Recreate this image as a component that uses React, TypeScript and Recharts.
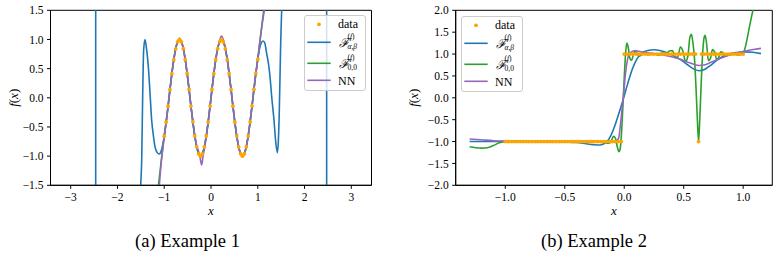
import React from 'react';
import { LineChart, Line, XAxis, YAxis, ReferenceArea, Legend, Label } from 'recharts';

const SERIF = 'Liberation Serif';
const C_DATA = '#FFA500';
const C_BLUE = '#1f77b4';
const C_GREEN = '#2ca02c';
const C_PURPLE = '#9467bd';

// ---------------- Example 1 ----------------
const ex1DataX = [-1, -0.959, -0.918, -0.878, -0.837, -0.796, -0.755, -0.714, -0.673, -0.633,
  -0.592, -0.551, -0.51, -0.469, -0.429, -0.388, -0.347, -0.306, -0.265, -0.224,
  -0.184, -0.143, -0.102, -0.061, -0.02, 0.02, 0.061, 0.102, 0.143, 0.184,
  0.224, 0.265, 0.306, 0.347, 0.388, 0.429, 0.469, 0.51, 0.551, 0.592,
  0.633, 0.673, 0.714, 0.755, 0.796, 0.837, 0.878, 0.918, 0.959, 1.0];
const ex1DataY = [-0.657, -0.418, -0.145, 0.14, 0.413, 0.653, 0.84, 0.959, 1.0, 0.96,
  0.842, 0.656, 0.417, 0.144, -0.141, -0.412, -0.654, -0.841, -0.96, -1.0,
  -0.96, -0.841, -0.655, -0.416, -0.142, 0.142, 0.416, 0.655, 0.841, 0.96,
  1.0, 0.96, 0.841, 0.654, 0.412, 0.141, -0.144, -0.417, -0.656, -0.842,
  -0.96, -1.0, -0.959, -0.84, -0.653, -0.413, -0.14, 0.145, 0.418, 0.657];

const ex1BlueX = [-3.45, -2.469, -2.462, -1.6, -1.52, -1.503, -1.482, -1.46, -1.44, -1.411,
  -1.38, -1.34, -1.304, -1.269, -1.23, -1.197, -1.15, -1.105, -1.06, -1.03,
  -1, -0.959, -0.918, -0.878, -0.837, -0.796, -0.755, -0.714, -0.673, -0.633,
  -0.592, -0.551, -0.51, -0.469, -0.429, -0.388, -0.347, -0.306, -0.265, -0.224,
  -0.184, -0.143, -0.102, -0.061, -0.02, 0.02, 0.061, 0.102, 0.143, 0.184,
  0.224, 0.265, 0.306, 0.347, 0.388, 0.429, 0.469, 0.51, 0.551, 0.592,
  0.633, 0.673, 0.714, 0.755, 0.796, 0.837, 0.878, 0.918, 0.959, 1.0,
  1.04, 1.08, 1.118, 1.15, 1.19, 1.23, 1.262, 1.3, 1.347, 1.38,
  1.418, 1.44, 1.461, 1.49, 1.511, 1.6, 2.47, 2.476, 3.45];
const ex1BlueY = [4, 40, -40, -4, -1.9, -1.5, -1.07, 0.08, 0.82, 1.0,
  0.85, 0.53, 0.08, -0.38, -0.66, -0.84, -0.94, -0.964, -0.9, -0.8,
  -0.657, -0.418, -0.145, 0.14, 0.413, 0.653, 0.84, 0.959, 1.0, 0.96,
  0.842, 0.656, 0.417, 0.144, -0.141, -0.412, -0.654, -0.841, -0.96, -1.0,
  -0.96, -0.841, -0.655, -0.416, -0.142, 0.142, 0.416, 0.655, 0.841, 0.96,
  1.0, 0.96, 0.841, 0.654, 0.412, 0.141, -0.144, -0.417, -0.656, -0.842,
  -0.96, -1.0, -0.959, -0.84, -0.653, -0.413, -0.14, 0.145, 0.418, 0.657,
  0.85, 0.95, 0.974, 0.94, 0.76, 0.58, 0.36, 0.0, -0.38, -0.72,
  -0.94, -0.75, -0.21, 0.93, 1.5, 4, 40, -40, -4];

const ex1GreenX = [-1.125, -1.09, -1.06, -1.03,
  -1, -0.959, -0.918, -0.878, -0.837, -0.796, -0.755, -0.714, -0.673, -0.633,
  -0.592, -0.551, -0.51, -0.469, -0.429, -0.388, -0.347, -0.306, -0.265, -0.224,
  -0.184, -0.143, -0.102, -0.061, -0.02, 0.02, 0.061, 0.102, 0.143, 0.184,
  0.224, 0.265, 0.306, 0.347, 0.388, 0.429, 0.469, 0.51, 0.551, 0.592,
  0.633, 0.673, 0.714, 0.755, 0.796, 0.837, 0.878, 0.918, 0.959, 1.0,
  1.03, 1.06, 1.09, 1.12, 1.15];
const ex1GreenY = [-1.5, -1.27, -1.05, -0.85,
  -0.657, -0.418, -0.145, 0.14, 0.413, 0.653, 0.84, 0.959, 1.0, 0.96,
  0.842, 0.656, 0.417, 0.144, -0.141, -0.412, -0.654, -0.841, -0.96, -1.0,
  -0.97, -0.841, -0.655, -0.416, -0.142, 0.142, 0.416, 0.655, 0.841, 0.96,
  1.01, 0.96, 0.841, 0.654, 0.412, 0.141, -0.144, -0.417, -0.656, -0.842,
  -0.96, -1.0, -0.959, -0.84, -0.653, -0.413, -0.14, 0.145, 0.418, 0.657,
  0.86, 1.06, 1.26, 1.45, 1.65];

const ex1PurpleX = [-1.105, -1.075, -1.045, -1.02, -1.0,
  -0.959, -0.918, -0.878, -0.837, -0.796, -0.755, -0.714, -0.673, -0.633, -0.592,
  -0.551, -0.51, -0.469, -0.429, -0.388, -0.347, -0.306,
  -0.265, -0.235, -0.2, -0.17, -0.143,
  -0.102, -0.061, -0.02,
  0.02, 0.061, 0.102, 0.143, 0.184, 0.224, 0.265, 0.306, 0.347, 0.388,
  0.429, 0.469, 0.51, 0.551, 0.592, 0.633, 0.673, 0.714, 0.755, 0.796,
  0.837, 0.878, 0.918, 0.959, 1.0,
  1.035, 1.07, 1.105, 1.14, 1.18];
const ex1PurpleY = [-1.5, -1.2, -0.97, -0.8, -0.66,
  -0.42, -0.15, 0.14, 0.41, 0.65, 0.85, 0.97, 1.02, 0.97, 0.85,
  0.66, 0.42, 0.14, -0.14, -0.41, -0.65, -0.82,
  -0.92, -1.02, -1.15, -1.0, -0.88,
  -0.68, -0.42, -0.14,
  0.14, 0.42, 0.66, 0.85, 0.98, 1.06, 0.99, 0.86, 0.67, 0.42,
  0.14, -0.15, -0.42, -0.66, -0.84, -0.96, -0.99, -0.95, -0.83, -0.64,
  -0.4, -0.13, 0.15, 0.42, 0.66,
  0.9, 1.12, 1.32, 1.5, 1.72];

const ex1XTicks = [-3, -2, -1, 0, 1, 2, 3];
const ex1YTicks = [-1.5, -1.0, -0.5, 0, 0.5, 1.0, 1.5];
const ex1XDomain: [number, number] = [-3.432, 3.432];
const ex1YDomain: [number, number] = [-1.5, 1.5];

// ---------------- Example 2 ----------------
const ex2DataX = [-1, -0.975, -0.95, -0.925, -0.9, -0.875, -0.85, -0.825, -0.8, -0.775,
  -0.75, -0.725, -0.7, -0.675, -0.65, -0.625, -0.6, -0.575, -0.55, -0.525,
  -0.5, -0.475, -0.45, -0.425, -0.4, -0.375, -0.35, -0.325, -0.3, -0.275,
  -0.25, -0.225, -0.2, -0.175, -0.15, -0.125, -0.1, -0.075, -0.05, -0.025,
  0, 0.025, 0.05, 0.075, 0.1, 0.125, 0.15, 0.175, 0.2, 0.225,
  0.25, 0.275, 0.3, 0.325, 0.35, 0.375, 0.4, 0.425, 0.45, 0.475,
  0.5, 0.525, 0.55, 0.575, 0.6, 0.625, 0.65, 0.675, 0.7, 0.725,
  0.75, 0.775, 0.8, 0.825, 0.85, 0.875, 0.9, 0.925, 0.95, 0.975, 1];
const ex2DataY = [-1, -1, -1, -1, -1, -1, -1, -1, -1, -1,
  -1, -1, -1, -1, -1, -1, -1, -1, -1, -1,
  -1, -1, -1, -1, -1, -1, -1, -1, -1, -1,
  -1, -1, -1, -1, -1, -1, -1, -1, -1, -1,
  1, 1, 1, 1, 1, 1, 1, 1, 1, 1,
  1, 1, 1, 1, 1, 1, 1, 1, 1, 1,
  1, 1, 1, 1, 1, -1, 1, 1, 1, 1,
  1, 1, 1, 1, 1, 1, 1, 1, 1, 1, 1];

const ex2BlueX = [-1.3, -1.2, -1.1, -1.0, -0.9, -0.8, -0.7, -0.6, -0.5, -0.4,
  -0.32, -0.26, -0.21, -0.17, -0.13, -0.09, -0.05, -0.01, 0.03, 0.07,
  0.11, 0.15, 0.2, 0.25, 0.3, 0.36, 0.42, 0.48, 0.54, 0.59,
  0.63, 0.67, 0.72, 0.78, 0.84, 0.9, 0.96, 1.02, 1.08, 1.15];
const ex2BlueY = [-1.0, -1.0, -1.0, -1.0, -1.0, -1.0, -1.0, -1.0, -1.01, -1.02,
  -1.05, -1.07, -1.08, -1.05, -0.95, -0.72, -0.4, -0.05, 0.33, 0.67,
  0.9, 1.03, 1.08, 1.1, 1.08, 1.03, 0.95, 0.86, 0.74, 0.65,
  0.62, 0.64, 0.73, 0.86, 0.96, 1.01, 1.04, 1.05, 1.04, 1.01];

const ex2GreenX = [-1.3, -1.25, -1.2, -1.15, -1.1, -1.05, -1.0, -0.9, -0.8, -0.6,
  -0.4, -0.25, -0.18, -0.13, -0.11, -0.09, -0.075, -0.06, -0.045, -0.035,
  -0.025, -0.013, 0.0, 0.011, 0.022, 0.034, 0.048, 0.062, 0.078, 0.093,
  0.108, 0.125, 0.145, 0.17, 0.2, 0.23, 0.26, 0.29, 0.32, 0.35,
  0.38, 0.405, 0.43, 0.45, 0.472, 0.495, 0.515, 0.535, 0.552, 0.565,
  0.578, 0.592, 0.604, 0.615, 0.625, 0.635, 0.646, 0.658, 0.67, 0.68,
  0.692, 0.708, 0.725, 0.742, 0.76, 0.778, 0.795, 0.812, 0.83, 0.85,
  0.875, 0.9, 0.93, 0.96, 0.99, 1.01, 1.03, 1.05, 1.07, 1.09,
  1.11];
const ex2GreenY = [-1.12, -1.14, -1.15, -1.14, -1.09, -1.03, -1.0, -0.99, -1.0, -1.0,
  -1.0, -1.0, -1.02, -1.04, -1.0, -0.88, -0.92, -1.1, -1.23, -1.18,
  -0.9, -0.3, 0.45, 1.0, 1.25, 1.15, 0.9, 0.86, 1.0, 1.08,
  1.02, 0.95, 0.98, 1.03, 0.98, 1.02, 1.0, 0.97, 1.03, 1.0,
  1.07, 1.08, 0.92, 0.93, 1.16, 1.05, 0.83, 0.95, 1.38, 1.45,
  1.25, 0.85, 0.2, -0.5, -1.0, -0.5, 0.25, 0.95, 1.35, 1.43,
  1.25, 0.85, 0.9, 1.1, 1.05, 0.87, 0.93, 1.05, 1.03, 0.95,
  0.98, 1.02, 1.0, 0.98, 1.0, 1.08, 1.3, 1.58, 1.85, 2.1,
  2.4];

const ex2PurpleX = [-1.3, -1.2, -1.1, -1.0, -0.8, -0.6, -0.4, -0.2, -0.1,
  -0.06, -0.045, -0.032, -0.02, -0.008, 0.005, 0.02, 0.036,
  0.06, 0.09, 0.12, 0.16, 0.22, 0.3, 0.38, 0.46, 0.53, 0.59, 0.63, 0.67, 0.73, 0.8, 0.88, 0.96, 1.04, 1.1, 1.15];
const ex2PurpleY = [-0.94, -0.96, -0.98, -0.99, -1.0, -1.0, -1.0, -1.0, -1.0,
  -0.97, -0.9, -0.62, -0.3, 0.0, 0.4, 0.75, 0.96,
  1.05, 1.075, 1.065, 1.045, 1.02, 0.99, 0.95, 0.89, 0.82, 0.76, 0.74, 0.75, 0.81, 0.89, 0.97, 1.03, 1.08, 1.11, 1.13];

const ex2XTicks = [-1.0, -0.5, 0, 0.5, 1.0];
const ex2YTicks = [-2.0, -1.5, -1.0, -0.5, 0, 0.5, 1.0, 1.5, 2.0];
const ex2XDomain: [number, number] = [-1.417, 1.245];
const ex2YDomain: [number, number] = [-2, 2];

const captions = ['(a) Example 1', '(b) Example 2'];

// ---------------- helpers ----------------
type Pt = { x: number; y: number };
const zip = (xs: number[], ys: number[]): Pt[] => xs.map((x, i) => ({ x, y: ys[i] }));
const fmt = (d: number) => (v: number) => (v < 0 ? '\u2212' : '') + Math.abs(v).toFixed(d);

type Series = { key: string; data: Pt[]; color: string; dots?: boolean };

const LegendSvg = ({ sub1, sub2 }: { sub1: string; sub2: string }) => (
  <svg width={62} height={76} style={{ display: 'block', overflow: 'visible' }}>
    <rect x={0.5} y={0.5} width={61} height={75} rx={2.5} ry={2.5} fill="#ffffff" fillOpacity={0.8} stroke="#cccccc" strokeWidth={1} />
    <circle cx={15} cy={9.3} r={1.9} fill={C_DATA} />
    <text x={34} y={13.2} style={{ fontFamily: SERIF, fontSize: 12 }} fill="#000">data</text>
    <line x1={3.3} x2={26.7} y1={27.3} y2={27.3} stroke={C_BLUE} strokeWidth={1.6} />
    <text x={34.5} y={31.6} style={{ fontFamily: SERIF, fontSize: 12.5, fontStyle: 'italic' }} fill="#000">ℱ</text>
    <text x={43.5} y={24.3} style={{ fontFamily: SERIF, fontSize: 7.5 }} fill="#000">(<tspan fontStyle="italic">f</tspan>)</text>
    <text x={43.5} y={34.4} style={{ fontFamily: SERIF, fontSize: 7.5, fontStyle: 'italic' }} fill="#000">{sub1}</text>
    <line x1={3.3} x2={26.7} y1={48.3} y2={48.3} stroke={C_GREEN} strokeWidth={1.6} />
    <text x={34.5} y={52.6} style={{ fontFamily: SERIF, fontSize: 12.5, fontStyle: 'italic' }} fill="#000">ℱ</text>
    <text x={43.5} y={45.3} style={{ fontFamily: SERIF, fontSize: 7.5 }} fill="#000">(<tspan fontStyle="italic">f</tspan>)</text>
    <text x={43.5} y={55.4} style={{ fontFamily: SERIF, fontSize: 7.5 }} fill="#000">{sub2}</text>
    <line x1={3.3} x2={26.7} y1={65.3} y2={65.3} stroke={C_PURPLE} strokeWidth={1.6} />
    <text x={34} y={69.5} style={{ fontFamily: SERIF, fontSize: 12 }} fill="#000">NN</text>
  </svg>
);

type PanelProps = {
  left: number; width: number; height: number;
  plotLeft: number; plotRight: number; plotTop: number; plotBottom: number;
  xDomain: [number, number]; yDomain: [number, number];
  xTicks: number[]; yTicks: number[]; xDec: number; yDec: number;
  series: Series[]; legendLeft: number; legendTop: number; yLabelX: number;
};

const tickStyle = { fill: '#000', fontSize: 11.5, fontFamily: SERIF, style: { fontFamily: SERIF } };

function Panel(p: PanelProps) {
  const xAxisH = 30;
  const margin = { top: p.plotTop, right: p.width - p.plotRight, left: 0, bottom: p.height - p.plotBottom - xAxisH };
  const cx = (p.plotLeft + p.plotRight) / 2;
  const cy = (p.plotTop + p.plotBottom) / 2;
  return (
    <div style={{ position: 'absolute', left: p.left, top: 0, width: p.width, height: p.height }}>
      <LineChart width={p.width} height={p.height} margin={margin} style={{ fontFamily: SERIF }}>
        <XAxis type="number" dataKey="x" domain={p.xDomain} allowDataOverflow ticks={p.xTicks} interval={0}
          tickFormatter={fmt(p.xDec)} tick={tickStyle} tickLine={{ stroke: '#000' }} axisLine={{ stroke: '#000' }}
          tickSize={3.5} tickMargin={4} height={xAxisH}
          label={<Label content={() => (
            <text x={cx} y={215.3} textAnchor="middle" style={{ fontFamily: SERIF, fontSize: 13, fontStyle: 'italic' }} fill="#000">x</text>
          )} />} />
        <YAxis type="number" dataKey="y" domain={p.yDomain} allowDataOverflow ticks={p.yTicks} interval={0}
          tickFormatter={fmt(p.yDec)} tick={tickStyle} tickLine={{ stroke: '#000' }} axisLine={{ stroke: '#000' }}
          tickSize={3.5} tickMargin={3.5} width={p.plotLeft}
          label={<Label content={() => (
            <text transform={`translate(${p.yLabelX}, ${cy}) rotate(-90)`} textAnchor="middle" dominantBaseline="central"
              style={{ fontFamily: SERIF, fontSize: 13 }} fill="#000">
              <tspan fontStyle="italic">f</tspan>(<tspan fontStyle="italic">x</tspan>)
            </text>
          )} />} />
        {p.series.map((s) =>
          s.dots ? (
            <Line key={s.key} data={s.data} dataKey="y" stroke="none" legendType="none"
              dot={{ r: 1.9, fill: s.color, stroke: 'none', strokeWidth: 0 }} activeDot={false} isAnimationActive={false} />
          ) : (
            <Line key={s.key} data={s.data} dataKey="y" type="monotone" stroke={s.color} strokeWidth={1.6}
              dot={false} activeDot={false} legendType="none" isAnimationActive={false} />
          )
        )}
        <ReferenceArea x1={p.xDomain[0]} x2={p.xDomain[1]} y1={p.yDomain[0]} y2={p.yDomain[1]}
          fill="none" fillOpacity={0} stroke="#000" strokeWidth={1} ifOverflow="visible" />
        <Legend layout="vertical" align="center" verticalAlign="middle"
          wrapperStyle={{ left: p.legendLeft, top: p.legendTop, width: 62, height: 76 }}
          content={() => <LegendSvg sub1="α,β" sub2="0,0" />} />
      </LineChart>
    </div>
  );
}

export default function App() {
  const ex1Series: Series[] = [
    { key: 'data', data: zip(ex1DataX, ex1DataY), color: C_DATA, dots: true },
    { key: 'blue', data: zip(ex1BlueX, ex1BlueY), color: C_BLUE },
    { key: 'green', data: zip(ex1GreenX, ex1GreenY), color: C_GREEN },
    { key: 'purple', data: zip(ex1PurpleX, ex1PurpleY), color: C_PURPLE },
  ];
  const ex2Series: Series[] = [
    { key: 'data', data: zip(ex2DataX, ex2DataY), color: C_DATA, dots: true },
    { key: 'blue', data: zip(ex2BlueX, ex2BlueY), color: C_BLUE },
    { key: 'green', data: zip(ex2GreenX, ex2GreenY), color: C_GREEN },
    { key: 'purple', data: zip(ex2PurpleX, ex2PurpleY), color: C_PURPLE },
  ];
  const capStyle: React.CSSProperties = { position: 'absolute', top: 232, width: 220, textAlign: 'center', fontFamily: SERIF, fontSize: 18.5, lineHeight: '19px', color: '#000' };
  return (
    <div style={{ position: 'absolute', left: 0, top: 0, width: 782, height: 264, background: '#fff', overflow: 'hidden', fontFamily: SERIF }}>
      <Panel left={0} width={390} height={230} plotLeft={50.5} plotRight={371.5} plotTop={10.3} plotBottom={185.3}
        xDomain={ex1XDomain} yDomain={ex1YDomain} xTicks={ex1XTicks} yTicks={ex1YTicks} xDec={0} yDec={1}
        series={ex1Series} legendLeft={304} legendTop={15} yLabelX={13} />
      <Panel left={390} width={392} height={230} plotLeft={65.7} plotRight={382.3} plotTop={10.3} plotBottom={185.3}
        xDomain={ex2XDomain} yDomain={ex2YDomain} xTicks={ex2XTicks} yTicks={ex2YTicks} xDec={1} yDec={1}
        series={ex2Series} legendLeft={70.7} legendTop={15.7} yLabelX={23.3} />
      <div style={{ ...capStyle, left: 77.5 }}>{captions[0]}</div>
      <div style={{ ...capStyle, left: 484 }}>{captions[1]}</div>
    </div>
  );
}
